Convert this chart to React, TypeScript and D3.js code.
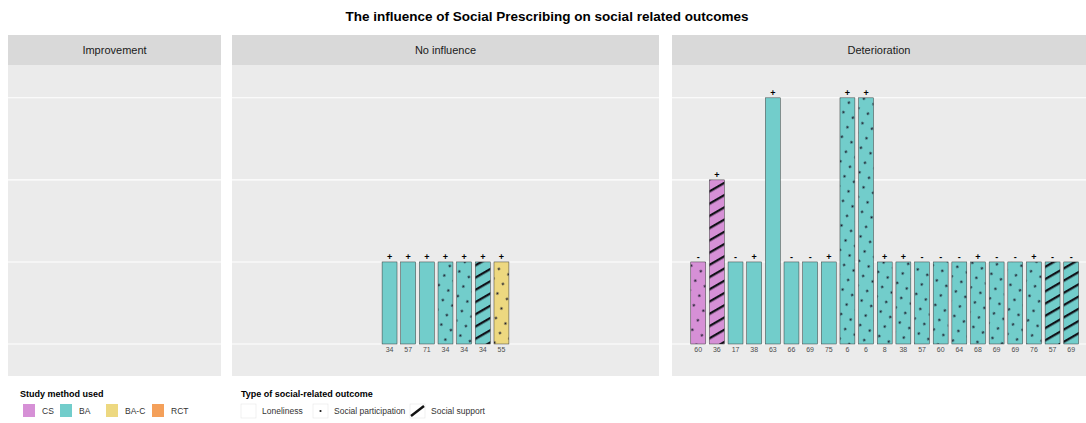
import * as d3 from 'd3'

// panels (facets) in the order they appear
const panels = ['Improvement', 'No influence', 'Deterioration']

const studyMethods = ['CS', 'BA', 'BA-C', 'RCT']
const methodColors = ['#D690D6', '#72CDCB', '#EDD880', '#F4A05A']
const outcomeTypes = ['Loneliness', 'Social participation', 'Social support']

// No influence
const noInfluenceIds = ['34', '57', '71', '34', '34', '34', '55']
const noInfluenceMethod = ['BA', 'BA', 'BA', 'BA', 'BA', 'BA', 'BA-C']
const noInfluenceOutcome = [
  'Loneliness', 'Loneliness', 'Loneliness', 'Social participation',
  'Social participation', 'Social support', 'Social participation',
]
const noInfluenceCount = [1, 1, 1, 1, 1, 1, 1]
const noInfluenceSign = ['+', '+', '+', '+', '+', '+', '+']

// Deterioration
const deteriorationIds = [
  '60', '36', '17', '38', '63', '66', '69', '75', '6', '6', '8',
  '38', '57', '60', '64', '68', '69', '69', '76', '57', '69',
]
const deteriorationMethod = [
  'CS', 'CS', 'BA', 'BA', 'BA', 'BA', 'BA', 'BA', 'BA', 'BA', 'BA',
  'BA', 'BA', 'BA', 'BA', 'BA', 'BA', 'BA', 'BA', 'BA', 'BA',
]
const deteriorationOutcome = [
  'Social participation', 'Social support', 'Loneliness', 'Loneliness',
  'Loneliness', 'Loneliness', 'Loneliness', 'Loneliness',
  'Social participation', 'Social participation', 'Social participation',
  'Social participation', 'Social participation', 'Social participation',
  'Social participation', 'Social participation', 'Social participation',
  'Social participation', 'Social participation', 'Social support', 'Social support',
]
const deteriorationCount = [1, 2, 1, 1, 3, 1, 1, 1, 3, 3, 1, 1, 1, 1, 1, 1, 1, 1, 1, 1, 1]
const deteriorationSign = [
  '-', '+', '-', '+', '+', '-', '-', '+', '+', '+', '+',
  '+', '-', '-', '-', '+', '-', '-', '+', '-', '-',
]

const yTicks = [0, 1, 2, 3]

type Bar = { id: string; method: string; outcome: string; n: number; sign: string }

const makeBars = (ids: string[], m: string[], o: string[], n: number[], s: string[]): Bar[] =>
  ids.map((id, i) => ({ id, method: m[i], outcome: o[i], n: n[i], sign: s[i] }))

const panelBars: Bar[][] = [
  [],
  makeBars(noInfluenceIds, noInfluenceMethod, noInfluenceOutcome, noInfluenceCount, noInfluenceSign),
  makeBars(deteriorationIds, deteriorationMethod, deteriorationOutcome, deteriorationCount, deteriorationSign),
]

const W = 1086
const H = 423
const font = '"Liberation Sans", Arial, sans-serif'
const panelX: [number, number][] = [[8, 221], [232, 659], [672, 1086]]
const stripTop = 35
const plotTop = 65
const plotBottom = 376
const step = 18.65

const colorScale = d3.scaleOrdinal<string, string>().domain(studyMethods).range(methodColors)
const patternFill = (o: string) =>
  o === 'Social participation' ? 'url(#dots)' : o === 'Social support' ? 'url(#stripes)' : 'none'

const y = d3.scaleLinear().domain([-0.39, 3.4]).range([plotBottom, plotTop])

export default function App() {
  const legend1 = [23, 60, 106, 152]
  const legend2 = [241, 313, 410]
  return (
    <div style={{ position: 'absolute', left: 0, top: 0 }}>
      <svg width={W} height={H} style={{ display: 'block', background: '#fff' }} fontFamily={font}>
        <defs>
          <pattern id="dots" patternUnits="userSpaceOnUse" width={11} height={11} patternTransform="rotate(30)">
            <circle cx={5.5} cy={5.5} r={1.15} fill="#1a1a2a" />
          </pattern>
          <pattern id="stripes" patternUnits="userSpaceOnUse" width={10.6} height={10.6} patternTransform="rotate(-30)">
            <rect x={0} y={0} width={10.6} height={2.3} fill="#111118" />
          </pattern>
        </defs>

        <text x={(8 + W) / 2} y={21} textAnchor="middle" fontSize={13.5} fontWeight="bold" fill="#000">
          The influence of Social Prescribing on social related outcomes
        </text>

        {panels.map((p, pi) => {
          const [x0, x1] = panelX[pi]
          const bars = panelBars[pi]
          const lead = pi === 1 ? (x1 - x0 - bars.length * step) / 2 : 16.9
          const x = d3
            .scaleBand<number>()
            .domain(d3.range(bars.length))
            .range([x0 + lead, x0 + lead + bars.length * step])
            .paddingInner(0.2)
            .paddingOuter(0.1)
          return (
            <g key={p}>
              <rect x={x0} y={stripTop} width={x1 - x0} height={plotTop - stripTop} fill="#D9D9D9" />
              <text x={(x0 + x1) / 2} y={(stripTop + plotTop) / 2 + 3.8} textAnchor="middle" fontSize={11} fill="#1A1A1A">
                {p}
              </text>
              <rect x={x0} y={plotTop} width={x1 - x0} height={plotBottom - plotTop} fill="#EBEBEB" />
              {yTicks.map((t) => (
                <line key={t} x1={x0} x2={x1} y1={y(t)} y2={y(t)} stroke="#fff" strokeWidth={1.1} />
              ))}
              {bars.map((b, i) => {
                const bx = x(i)!
                const bw = x.bandwidth()
                const top = y(b.n)
                const h = y(0) - top
                return (
                  <g key={i}>
                    <rect x={bx} y={top} width={bw} height={h} fill={colorScale(b.method)} />
                    {b.outcome !== 'Loneliness' && (
                      <rect x={bx} y={top} width={bw} height={h} fill={patternFill(b.outcome)} />
                    )}
                    <rect x={bx} y={top} width={bw} height={h} fill="none" stroke="#3a3a3a" strokeWidth={0.5} />
                    <text x={bx + bw / 2} y={top - 2} textAnchor="middle" fontSize={9} fontWeight="bold" fill="#000">
                      {b.sign}
                    </text>
                    <text x={bx + bw / 2} y={y(0) + 8} textAnchor="middle" fontSize={7} fill="#4D4D4D">
                      {b.id}
                    </text>
                  </g>
                )
              })}
            </g>
          )
        })}

        <text x={20} y={397} fontSize={9} fontWeight="bold" fill="#000">Study method used</text>
        {studyMethods.map((m, i) => (
          <g key={m}>
            <rect x={legend1[i]} y={404} width={12} height={13} fill={colorScale(m)} />
            <text x={legend1[i] + 19} y={414} fontSize={8.5} fill="#333">{m}</text>
          </g>
        ))}

        <text x={241} y={397} fontSize={9} fontWeight="bold" fill="#000">Type of social-related outcome</text>
        {outcomeTypes.map((o, i) => (
          <g key={o}>
            <rect x={legend2[i]} y={404} width={15} height={14} fill="#fff" stroke="#e6e6e6" strokeWidth={0.6} />
            {o === 'Social participation' && (
              <circle cx={legend2[i] + 7.5} cy={411} r={1.1} fill="#1a1a1a" />
            )}
            {o === 'Social support' && (
              <line x1={legend2[i] + 1} y1={416} x2={legend2[i] + 14} y2={406} stroke="#111" strokeWidth={2.4} />
            )}
            <text x={legend2[i] + 21} y={414} fontSize={8.5} fill="#333">{o}</text>
          </g>
        ))}
      </svg>
    </div>
  )
}
